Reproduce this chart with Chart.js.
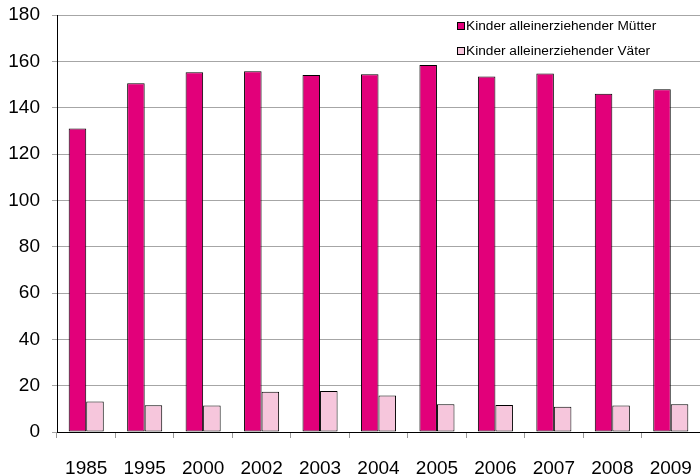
<!DOCTYPE html>
<html>
<head>
<meta charset="utf-8">
<script src="https://cdn.jsdelivr.net/npm/chart.js@4.4.0/dist/chart.umd.min.js"></script>
<style>
  html, body { margin: 0; padding: 0; background: #fff; }
  #wrap { width: 700px; height: 474px; }
</style>
</head>
<body>
<div id="wrap"><canvas id="kinderCanvas"></canvas></div>
<script>
var years = ['1985', '1995', '2000', '2002', '2003', '2004', '2005', '2006', '2007', '2008', '2009'];
var muetter = [131, 150.5, 155.3, 155.7, 154.1, 154.4, 158.4, 153.5, 154.8, 146, 148];
var vaeter = [13.2, 11.5, 11.4, 17.4, 17.7, 15.8, 12, 11.7, 10.9, 11.4, 12];
var seriesNames = ['Kinder alleinerziehender Mütter', 'Kinder alleinerziehender Väter'];

// legend sits inside the plot, top right, one item per line
var insideLegend = {
    id: 'insideLegend',
    afterDraw: function (chart) {
        var ctx = chart.ctx;
        var x = 457, y = 26;
        ctx.save();
        ctx.font = '13.7px "Liberation Sans", Arial, sans-serif';
        ctx.textBaseline = 'middle';
        chart.data.datasets.forEach(function (ds, i) {
            var yy = y + i * 25;
            ctx.fillStyle = ds.backgroundColor;
            ctx.fillRect(x, yy - 4, 8, 8);
            ctx.strokeStyle = '#000';
            ctx.lineWidth = 1;
            ctx.strokeRect(x + 0.5, yy - 3.5, 7, 7);
            ctx.fillStyle = '#000';
            ctx.fillText(ds.label, x + 9, yy);
        });
        ctx.restore();
    }
};

var ctx = document.getElementById('kinderCanvas').getContext('2d');
var kinderChart = new Chart(ctx, {
    type: 'bar',
    data: {
        labels: years,
        datasets: [
            {
                label: seriesNames[0],
                data: muetter,
                backgroundColor: '#e2007a',
                borderColor: '#000',
                borderWidth: 1,
                borderSkipped: false
            },
            {
                label: seriesNames[1],
                data: vaeter,
                backgroundColor: '#f6c6dc',
                borderColor: '#000',
                borderWidth: 1,
                borderSkipped: false
            }
        ]
    },
    options: {
        responsive: true,
        maintainAspectRatio: false,
        animation: false,
        categoryPercentage: 0.6,
        barPercentage: 1.0,
        layout: { padding: { top: 15, right: 0, left: 0, bottom: 0 } },
        plugins: {
            legend: { display: false },
            tooltip: { enabled: false }
        },
        scales: {
            x: {
                grid: {
                    offset: true,
                    drawOnChartArea: false,
                    color: '#999',
                    tickLength: 6
                },
                border: { color: '#000', width: 1 },
                ticks: {
                    color: '#000',
                    padding: 19,
                    maxRotation: 0,
                    autoSkip: false,
                    font: { family: '"Liberation Sans", Arial, sans-serif', size: 19 }
                },
                afterFit: function (scale) {
                    scale.height = 42;
                    scale.paddingRight = 0;
                    scale.paddingLeft = 0;
                }
            },
            y: {
                min: 0,
                max: 180,
                grid: {
                    color: '#a6a6a6',
                    tickLength: 5
                },
                border: { color: '#000', width: 1 },
                ticks: {
                    stepSize: 20,
                    color: '#000',
                    padding: 12,
                    font: { family: '"Liberation Sans", Arial, sans-serif', size: 19 }
                },
                afterFit: function (scale) {
                    scale.width = 57;
                    scale.paddingTop = 0;
                    scale.paddingBottom = 0;
                }
            }
        }
    },
    plugins: [insideLegend]
});
</script>
</body>
</html>
